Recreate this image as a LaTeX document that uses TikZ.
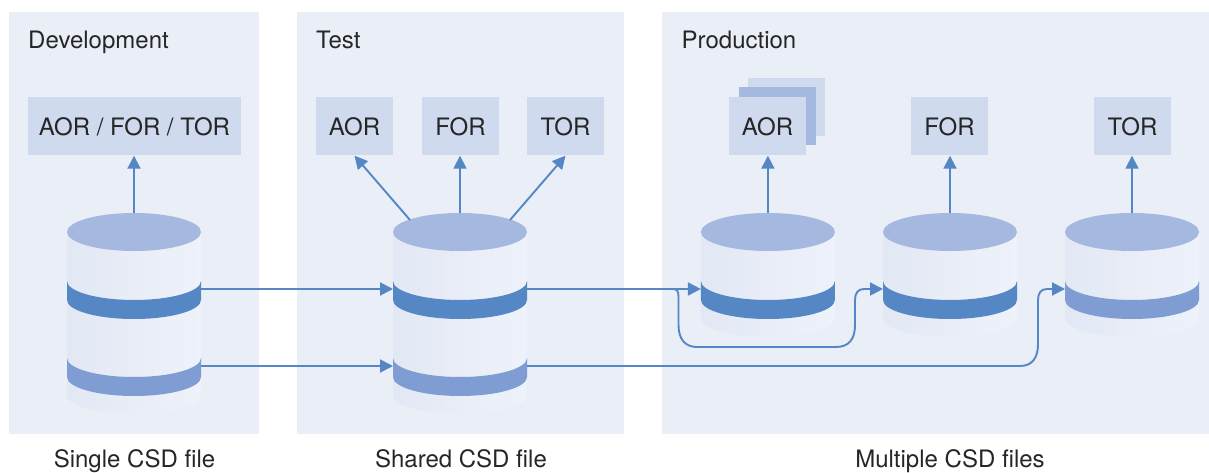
\documentclass[tikz,border=0pt]{standalone}
\usepackage{fontspec}
\setmainfont{TeX Gyre Heros}
\usetikzlibrary{arrows.meta}
\definecolor{panel}{HTML}{E9EEF7}
\definecolor{boxc}{HTML}{CFDAEE}
\definecolor{topc}{HTML}{A5B9E0}
\definecolor{darkb}{HTML}{5587C4}
\definecolor{lightb}{HTML}{7F9DD2}
\definecolor{bodyl}{HTML}{E2E8F4}
\definecolor{bodyr}{HTML}{EEF2FA}
\tikzset{
  x=1pt,y=-1pt,
  panelbox/.style={fill=panel,draw=none},
  comp/.style={fill=boxc,inner sep=0pt,minimum width=77pt,minimum height=58pt,text=black!85,font=\fontsize{24}{26}\selectfont},
  ttl/.style={inner sep=0pt,anchor=base west,text=black!85,font=\fontsize{24}{26}\selectfont},
  capt/.style={inner sep=0pt,anchor=base,text=black!85,font=\fontsize{24}{26}\selectfont},
  link/.style={draw=darkb,line width=1.9pt,-{Triangle[width=13pt,length=13pt]}},
}
\newcommand{\band}[2]{\fill[#2] (-67,#1) -- (-67,{#1+19}) .. controls (-67,{#1+29.5}) and (-37,{#1+38}) .. (0,{#1+38}) .. controls (37,{#1+38}) and (67,{#1+29.5}) .. (67,{#1+19}) -- (67,#1) .. controls (67,{#1+10.5}) and (37,{#1+19}) .. (0,{#1+19}) .. controls (-37,{#1+19}) and (-67,{#1+10.5}) .. (-67,#1) -- cycle;}
\newcommand{\lid}{\fill[topc] (-67,232) .. controls (-67,221.5) and (-37,213) .. (0,213) .. controls (37,213) and (67,221.5) .. (67,232) .. controls (67,242.5) and (37,251) .. (0,251) .. controls (-37,251) and (-67,242.5) .. (-67,232) -- cycle;}
\newcommand{\tallcyl}[2]{\begin{scope}[shift={(#2,0)}]
  \shade[left color=bodyl,right color=bodyr] (-67,232) -- (-67,395) .. controls (-67,405.5) and (-37,414) .. (0,414) .. controls (37,414) and (67,405.5) .. (67,395) -- (67,232) -- cycle;
  \lid \band{281}{darkb} \band{358}{lightb}
  \coordinate (#1-top) at (0,213);
  \coordinate (#1-tl) at (-50,220);
  \coordinate (#1-tr) at (50,220);
  \coordinate (#1-al) at (-67,289);
  \coordinate (#1-ar) at (67,289);
  \coordinate (#1-bl) at (-67,366);
  \coordinate (#1-br) at (67,366);
\end{scope}}
\newcommand{\shortcyl}[3]{\begin{scope}[shift={(#2,0)}]
  \shade[left color=bodyl,right color=bodyr] (-67,232) -- (-67,318) .. controls (-67,328.5) and (-37,337) .. (0,337) .. controls (37,337) and (67,328.5) .. (67,318) -- (67,232) -- cycle;
  \lid \band{281}{#3}
  \coordinate (#1-top) at (0,213);
  \coordinate (#1-al) at (-67,289);
\end{scope}}
\begin{document}
\begin{tikzpicture}
\useasboundingbox (0,0) rectangle (1209,473);
\fill[white] (0,0) rectangle (1209,473);
\fill[panelbox] (9,12) rectangle (259,434);
\fill[panelbox] (297,12) rectangle (624,434);
\fill[panelbox] (662,12) rectangle (1209,434);

\node[ttl] (t1) at (28,48.5) {Development};
\node[ttl] (t2) at (316,48.5) {Test};
\node[ttl] (t3) at (681.5,48.5) {Production};
\node[capt] (c1) at (134.5,467.6) {Single CSD file};
\node[capt] (c2) at (461,467.6) {Shared CSD file};
\node[capt] (c3) at (950,467.6) {Multiple CSD files};

\node[comp,minimum width=213pt] (a) at (134.5,126.5) {AOR / FOR / TOR};
\node[comp] (b1) at (354.5,126.5) {AOR};
\node[comp] (b2) at (460.5,126.5) {FOR};
\node[comp] (b3) at (565.5,126.5) {TOR};
\node[comp] (p1b) at (786.5,107) {};
\node[comp,fill=topc] (p1m) at (777.5,116.5) {};
\node[comp] (p1) at (767.5,126.5) {AOR};
\node[comp] (p2) at (949.5,126.5) {FOR};
\node[comp] (p3) at (1132.5,126.5) {TOR};

\tallcyl{da}{134}
\tallcyl{db}{460}
\shortcyl{dc}{767.9}{darkb}
\shortcyl{dd}{950}{darkb}
\shortcyl{de}{1132}{lightb}

\coordinate (j1) at (670,289);
\draw[link] (da-top) -- (da-top |- a.south);
\draw[link] (db-tl) -- (b1.south);
\draw[link] (db-top) -- (db-top |- b2.south);
\draw[link] (db-tr) -- (b3.south);
\draw[link] (dc-top) -- (dc-top |- p1.south);
\draw[link] (dd-top) -- (dd-top |- p2.south);
\draw[link] (de-top) -- (de-top |- p3.south);
\draw[link] (da-ar) -- (db-al);
\draw[link] (da-br) -- (db-bl);
\draw[link] (db-ar) -- (dc-al);
\draw[link] (j1) -- (673,289) .. controls (677,289) and (678.5,291) .. (678.5,297) -- (678.5,325) .. controls (678.5,339) and (685,347) .. (697,347) -- (836,347) .. controls (849,347) and (855,339) .. (855,325) -- (855,300) .. controls (855,293) and (858,289) .. (864,289) -- (dd-al);
\draw[link] (db-br) -- (1020,366) .. controls (1032,366) and (1038,358) .. (1038,344) -- (1038,300) .. controls (1038,293) and (1041,289) .. (1047,289) -- (de-al);
\end{tikzpicture}
\end{document}
